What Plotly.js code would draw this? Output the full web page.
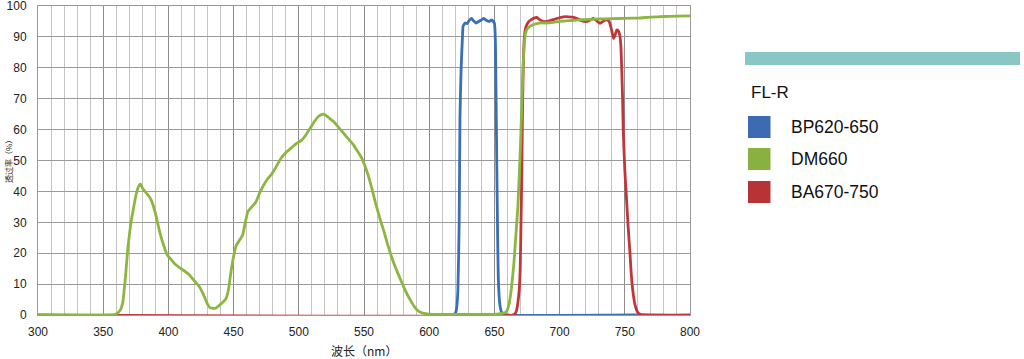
<!DOCTYPE html>
<html><head><meta charset="utf-8">
<script src="https://cdn.plot.ly/plotly-3.0.1.min.js"></script>
<style>html,body{margin:0;padding:0;background:#fff;}#chart{width:1024px;height:359px;}</style>
</head><body><div id="chart"></div>
<script>
const seriesNames = ["BP620-650", "DM660", "BA670-750"];
const seriesColors = ["#3A6EB7", "#8BB741", "#C0363A"];
const legendColors = ["#3D6BB3", "#88B140", "#B83336"];
const legendTitle = "FL-R";
const xTitle = "波长（nm）";
const yTitle = "透过率（%）";

const bpX = [600,618,620,621,622,623,623.6,624.5,625.5,626,627.5,629,631,632.5,634,636,638,640,642,644,646,648,650,650.8,651.3,651.8,652.5,653,654,655,656,660,760];
const bpY = [0,0,0.5,2,8,30,64,80,90,93.5,94.5,94.3,95.5,96,95.2,94.5,95,95.5,96,95.3,95,95.5,94.5,88,70,50,25,12,4,1.5,0.5,0,0];

const dmX = [300,355,360,363,365,367,369,371,373,375,377,378.5,380,382,385,387,390,393,396,399,402,405,409,413,416,420,424,427,430,432,436,440,444,446,448,450,452,455,457,459,461,464,467,470,473,476,479,482,486,490,494,498,502,505,508,511,514,517,519,521,524,527,531,535,539,542,545,548,550,553,556,559,562,565,568,571,574,577,580,583,586,589,592,596,600,640,652,656,659,661,663,665,666,668,670,671,672,673,674,676,680,685,690,695,700,705,710,715,720,725,730,740,750,760,770,780,790,800];
const dmY = [0,0,0.3,1.5,4,12,22,29,34,38.5,41.5,42.4,41.2,40,38.5,37,33,27.5,23,19.5,18,16.5,15.2,14,13,11,9,6.5,3.5,2.3,2.2,3.5,5.2,8,14,19,22.5,24.5,26,30,33.5,35,36.5,39.5,42,44,45.5,47.5,50.5,52.5,54,55.5,56.5,58,60,62,63.8,64.8,65,64.5,63.5,62.5,60.5,58.5,56.5,55,53,51,49,45.5,41,36,31.5,27.5,23,19,15.5,12.5,9.5,6.8,4.5,2.5,1.2,0.5,0.3,0.2,0.3,0.5,1,3,8.5,17,23,35,55,68,80,88,91.5,93,94,94.5,94.5,94.7,95,95.2,95.3,95.5,95.6,95.7,95.8,95.9,96,96.1,96.4,96.6,96.7,96.8];

const baX = [300,664,666,667,668,669,669.8,670.4,671,671.5,672.2,673,674,676,678,680,682.5,685,688,690,693,696,700,703,707,710,713,716,719,721,724,726,729,731,734,736,738,740,741.3,742.5,743.8,745,746.2,747,747.6,748.3,748.8,750,751.4,752.5,753.8,755,756.4,758,760,762,800];
const baY = [0,0,0.5,1.5,4,8,15,30,45,65,82,90,93,94.8,95.5,96,96.3,95.5,95,95,95.3,95.7,96.2,96.5,96.5,96.4,96,95.4,95,95,95.6,96,95,94.4,95.2,95.5,95,92,89.5,90.5,92.2,92,90.5,87,80,70,60,47,37,29,21,13,7,3,0.8,0.2,0];

const yTickVals = [0,10,20,30,40,50,60,70,80,90,100];
const xTickVals = [300,350,400,450,500,550,600,650,700,750,800];

const xs = [bpX, baX, dmX], ys = [bpY, baY, dmY];
const colorIdx = [0, 2, 1];
const traces = xs.map((x, i) => ({
  x: x, y: ys[i], type: "scatter", mode: "lines",
  name: seriesNames[colorIdx[i]],
  line: {color: seriesColors[colorIdx[i]], width: 2.8, shape: "spline", smoothing: 0.4},
  showlegend: false, hoverinfo: "skip", cliponaxis: true
}));

// layout geometry
const L = 38, R = 690, T = 6, B = 315;
const W = R - L, H = B - T;
const px = v => (v - L) / W;
const py = v => (B - v) / H;

const shapes = [
  {type: "rect", xref: "paper", yref: "paper", x0: px(745), x1: px(1020), y0: py(65), y1: py(52),
   fillcolor: "#89C7C4", line: {width: 0}}
];
const annotations = [
  {xref: "paper", yref: "paper", x: px(749), y: py(92.5), text: legendTitle, showarrow: false,
   xanchor: "left", yanchor: "middle", font: {family: "Liberation Sans, Arial, sans-serif", size: 17, color: "#111"}},
  {xref: "paper", yref: "paper", x: 0.5, y: py(350), text: xTitle, showarrow: false,
   xanchor: "center", yanchor: "middle", font: {family: "Noto Sans CJK SC, sans-serif", size: 12, color: "#222"}},
  {xref: "paper", yref: "paper", x: px(8), y: py(160), text: yTitle, showarrow: false, textangle: -90,
   xanchor: "center", yanchor: "middle", font: {family: "Noto Sans CJK SC, sans-serif", size: 8, color: "#222"}}
];
const legTops = [116, 148, 181];
seriesNames.forEach((n, i) => {
  shapes.push({type: "rect", xref: "paper", yref: "paper", x0: px(748), x1: px(770.5),
    y0: py(legTops[i] + 22), y1: py(legTops[i]), fillcolor: legendColors[i], line: {width: 0}});
  annotations.push({xref: "paper", yref: "paper", x: px(789), y: py(legTops[i] + 11), text: n,
    showarrow: false, xanchor: "left", yanchor: "middle",
    font: {family: "Liberation Sans, Arial, sans-serif", size: 17.5, color: "#111"}});
});

const layout = {
  width: 1024, height: 359,
  margin: {l: L, r: 1024 - R, t: T, b: 359 - B},
  paper_bgcolor: "#fff", plot_bgcolor: "#fff",
  font: {family: "Liberation Sans, Arial, sans-serif", size: 12, color: "#222"},
  xaxis: {
    range: [300, 800], tickmode: "array", tickvals: xTickVals, ticktext: xTickVals.map(String),
    showgrid: true, gridcolor: "#8c8c8c", gridwidth: 1,
    minor: {dtick: 10, tick0: 300, showgrid: true, gridcolor: "#c4c4c4", gridwidth: 1},
    zeroline: false, showline: true, mirror: true, linecolor: "#999", linewidth: 1,
    ticks: "", ticklabelstandoff: 6, ticklabeloverflow: "allow", tickfont: {size: 12, color: "#222"}
  },
  yaxis: {
    range: [0, 100], tickmode: "array", tickvals: yTickVals, ticktext: yTickVals.map(String),
    showgrid: true, gridcolor: "#9a9a9a", gridwidth: 1,
    zeroline: false, showline: true, mirror: true, linecolor: "#999", linewidth: 1,
    ticks: "", ticklabelstandoff: 8, ticklabeloverflow: "allow", tickfont: {size: 12, color: "#222"}
  },
  shapes: shapes, annotations: annotations, showlegend: false
};
Plotly.newPlot("chart", traces, layout, {staticPlot: true, displayModeBar: false});
</script></body></html>
